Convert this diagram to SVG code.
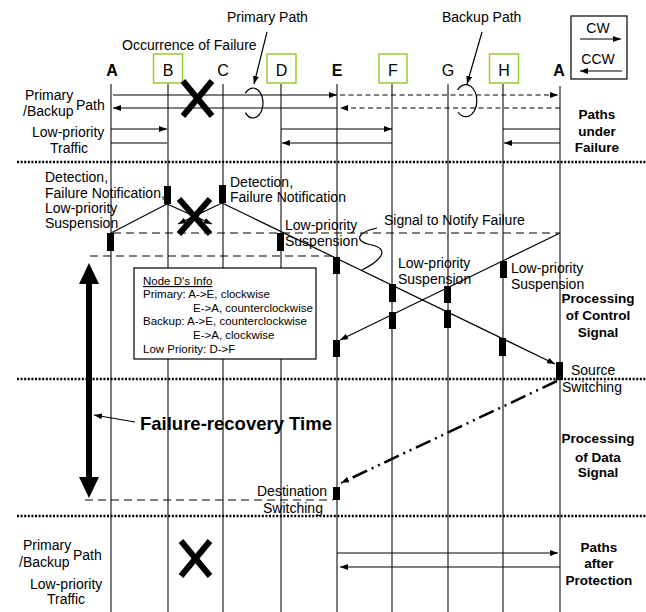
<svg xmlns="http://www.w3.org/2000/svg" width="646" height="612" viewBox="0 0 646 612">
<defs>
<marker id="ah" viewBox="0 0 8 6" refX="8" refY="3" markerWidth="8" markerHeight="6" markerUnits="userSpaceOnUse" orient="auto"><path d="M0,0 L8,3 L0,6 z" fill="#000"/></marker>
</defs>
<style>
text{font-family:"Liberation Sans",Arial,sans-serif;fill:#000}
.t{font-size:14px}
.s{font-size:11.5px}
.n{font-size:16px}
.nb{font-size:16px;font-weight:bold}
.sec{font-size:13.5px;font-weight:bold;text-anchor:middle}
.life{stroke:#222;stroke-width:1.2}
.ln{stroke:#000;stroke-width:1.2;fill:none}
.da{stroke:#000;stroke-width:1.2;stroke-dasharray:5 3.5;fill:none}
.dl{stroke:#000;stroke-width:1.1;stroke-dasharray:8 5;fill:none}
.bar{fill:#000}
.gbox{fill:#fff;stroke:#99cc33;stroke-width:1.5}
.sep{stroke:#000;stroke-width:2.5;stroke-dasharray:2 1.6}
.x{stroke:#000;stroke-width:6}
</style>

<g id="lifelines">
<line class="life" x1="111" y1="84" x2="111" y2="612"/>
<line class="life" x1="168" y1="84" x2="168" y2="612"/>
<line class="life" x1="223" y1="84" x2="223" y2="612"/>
<line class="life" x1="281" y1="84" x2="281" y2="612"/>
<line class="life" x1="337" y1="84" x2="337" y2="612"/>
<line class="life" x1="392" y1="84" x2="392" y2="612"/>
<line class="life" x1="448" y1="84" x2="448" y2="612"/>
<line class="life" x1="503" y1="84" x2="503" y2="612"/>
<line class="life" x1="560" y1="86" x2="560" y2="612"/>
</g>

<g id="node-A1"><text class="nb" x="112" y="76" text-anchor="middle">A</text></g>
<g id="node-B"><rect class="gbox" x="153.5" y="54" width="29" height="29"/><text class="n" x="168" y="76" text-anchor="middle">B</text></g>
<g id="node-C"><text class="n" x="223" y="76" text-anchor="middle">C</text></g>
<g id="node-D"><rect class="gbox" x="267" y="54" width="29" height="29"/><text class="n" x="281.5" y="76" text-anchor="middle">D</text></g>
<g id="node-E"><text class="nb" x="337" y="76" text-anchor="middle">E</text></g>
<g id="node-F"><rect class="gbox" x="379" y="54" width="28" height="29"/><text class="n" x="393" y="76" text-anchor="middle">F</text></g>
<g id="node-G"><text class="n" x="448" y="76" text-anchor="middle">G</text></g>
<g id="node-H"><rect class="gbox" x="489.5" y="54" width="29" height="29"/><text class="n" x="504" y="76" text-anchor="middle">H</text></g>
<g id="node-A2"><text class="nb" x="559" y="76" text-anchor="middle">A</text></g>

<g id="legend">
<rect x="571" y="16" width="56" height="63" fill="#fff" stroke="#000" stroke-width="1.2"/>
<text class="t" x="598" y="33" text-anchor="middle">CW</text>
<line class="ln" x1="580" y1="39" x2="621" y2="39" marker-end="url(#ah)"/>
<text class="t" x="598" y="64" text-anchor="middle">CCW</text>
<line class="ln" x1="622" y1="71" x2="580" y2="71" marker-end="url(#ah)"/>
</g>

<g id="separators">
<line class="sep" x1="17" y1="162" x2="646" y2="162"/>
<line class="sep" x1="17" y1="379" x2="646" y2="379"/>
<line class="sep" x1="17" y1="516" x2="646" y2="516"/>
</g>

<g id="connectors">
<line class="ln" x1="113" y1="95" x2="337" y2="95" marker-end="url(#ah)"/>
<line class="da" x1="340" y1="95" x2="558" y2="95" marker-end="url(#ah)"/>
<line class="ln" x1="337" y1="108" x2="113" y2="108" marker-end="url(#ah)"/>
<line class="da" x1="560" y1="108" x2="340" y2="108" marker-end="url(#ah)"/>
<line class="ln" x1="111" y1="129" x2="167" y2="129" marker-end="url(#ah)"/>
<line class="ln" x1="111" y1="143" x2="167" y2="143"/>
<line class="ln" x1="281" y1="129" x2="392" y2="129" marker-end="url(#ah)"/>
<line class="ln" x1="392" y1="143" x2="282" y2="143" marker-end="url(#ah)"/>
<line class="ln" x1="503" y1="129" x2="560" y2="129"/>
<line class="ln" x1="560" y1="143" x2="504" y2="143" marker-end="url(#ah)"/>
<line class="ln" x1="267" y1="32" x2="254" y2="84" marker-end="url(#ah)"/>
<path class="ln" d="M245.3,93.4 A10,15 0 1 1 245.3,112.6"/>
<line class="ln" x1="482" y1="32" x2="467" y2="84" marker-end="url(#ah)"/>
<path class="ln" d="M457.6,90 A11,16 0 1 1 458,112"/>
<line class="dl" x1="113" y1="233" x2="560" y2="233"/>
<line class="dl" x1="90" y1="256" x2="333" y2="256"/>
<line class="ln" x1="167" y1="204" x2="111" y2="233"/>
<line class="ln" x1="167" y1="204" x2="212" y2="224" marker-end="url(#ah)"/>
<line class="ln" x1="222" y1="203" x2="178" y2="224" marker-end="url(#ah)"/>
<line class="ln" x1="222" y1="203" x2="555" y2="364" marker-end="url(#ah)"/>
<line class="ln" x1="560" y1="233" x2="340" y2="340" marker-end="url(#ah)"/>
<path class="ln" d="M377,228 C358,232 352,241 372,245 C392,250 378,262 362,270"/>
<line x1="557" y1="381" x2="341" y2="483" stroke="#000" stroke-width="2.5" stroke-dasharray="16 5 2 5 2 5" marker-end="url(#ah)"/>
<line class="dl" x1="85" y1="500" x2="333" y2="500"/>
<rect x="86" y="282" width="6" height="197" fill="#000"/>
<polygon points="89,263 79,284 99,284" fill="#000"/>
<polygon points="89,498 79,477 99,477" fill="#000"/>
<line class="ln" x1="135" y1="422" x2="94" y2="415" marker-end="url(#ah)"/>
<line class="ln" x1="337" y1="553" x2="558" y2="553" marker-end="url(#ah)"/>
<line class="ln" x1="560" y1="567" x2="340" y2="567" marker-end="url(#ah)"/>
</g>

<g id="bars">
<rect class="bar" x="164" y="186" width="7" height="18"/>
<rect class="bar" x="219" y="185" width="7" height="18"/>
<rect class="bar" x="107" y="233" width="7" height="18"/>
<rect class="bar" x="277" y="233" width="7" height="18"/>
<rect class="bar" x="333" y="257" width="7" height="17"/>
<rect class="bar" x="389" y="284" width="7" height="18"/>
<rect class="bar" x="444" y="286" width="7" height="17"/>
<rect class="bar" x="500" y="261" width="7" height="17"/>
<rect class="bar" x="389" y="312" width="7" height="17"/>
<rect class="bar" x="444" y="310" width="7" height="18"/>
<rect class="bar" x="333" y="340" width="7" height="17"/>
<rect class="bar" x="499" y="338" width="7" height="18"/>
<rect class="bar" x="556" y="362" width="7" height="18"/>
<rect class="bar" x="333" y="487" width="7" height="13"/>
</g>

<g id="failures">
<line class="x" x1="183" y1="81" x2="212" y2="116"/><line class="x" x1="212" y1="81" x2="183" y2="116"/>
<line class="x" x1="179" y1="199" x2="210" y2="234"/><line class="x" x1="210" y1="199" x2="179" y2="234"/>
<line class="x" x1="181" y1="541" x2="210" y2="576"/><line class="x" x1="210" y1="541" x2="181" y2="576"/>
</g>

<g id="info-box">
<rect x="134" y="268" width="182" height="91" fill="#fff" stroke="#000" stroke-width="1.2"/>
<text class="s" x="143" y="285" text-decoration="underline">Node D's Info</text>
<text class="s" x="143" y="298">Primary: A-&gt;E, clockwise</text>
<text class="s" x="193" y="312">E-&gt;A, counterclockwise</text>
<text class="s" x="143" y="325">Backup: A-&gt;E, counterclockwise</text>
<text class="s" x="193" y="339">E-&gt;A, clockwise</text>
<text class="s" x="143" y="353">Low Priority: D-&gt;F</text>
</g>

<g id="labels">
<text class="t" x="227" y="22">Primary Path</text>
<text class="t" x="442" y="22">Backup Path</text>
<text class="t" x="122" y="50">Occurrence of Failure</text>
<text class="t" x="25" y="100">Primary</text>
<text class="t" x="23" y="116">/Backup</text>
<text class="t" x="76" y="110">Path</text>
<text class="t" x="32" y="137">Low-priority</text>
<text class="t" x="50" y="153">Traffic</text>
<text class="sec" x="597" y="119">Paths</text>
<text class="sec" x="597" y="136">under</text>
<text class="sec" x="597" y="152">Failure</text>
<text class="t" x="45" y="182">Detection,</text>
<text class="t" x="45" y="198">Failure Notification,</text>
<text class="t" x="45" y="213">Low-priority</text>
<text class="t" x="45" y="228">Suspension</text>
<text class="t" x="230" y="187">Detection,</text>
<text class="t" x="230" y="202">Failure Notification</text>
<text class="t" x="285" y="230">Low-priority</text>
<text class="t" x="285" y="246">Suspension</text>
<text class="t" x="384" y="225">Signal to Notify Failure</text>
<text class="t" x="398" y="268">Low-priority</text>
<text class="t" x="398" y="284">Suspension</text>
<text class="t" x="511" y="273">Low-priority</text>
<text class="t" x="511" y="289">Suspension</text>
<text class="sec" x="598" y="303">Processing</text>
<text class="sec" x="598" y="320">of Control</text>
<text class="sec" x="598" y="337">Signal</text>
<text class="t" x="571" y="375">Source</text>
<text class="t" x="562" y="392">Switching</text>
<text x="140" y="430" font-size="18.5" font-weight="bold">Failure-recovery Time</text>
<text class="sec" x="598" y="443">Processing</text>
<text class="sec" x="598" y="462">of Data</text>
<text class="sec" x="598" y="477">Signal</text>
<text class="t" x="257" y="496">Destination</text>
<text class="t" x="263" y="513">Switching</text>
<text class="t" x="23" y="550">Primary</text>
<text class="t" x="19" y="567">/Backup</text>
<text class="t" x="73" y="560">Path</text>
<text class="t" x="30" y="589">Low-priority</text>
<text class="t" x="47" y="604">Traffic</text>
<text class="sec" x="599" y="552">Paths</text>
<text class="sec" x="599" y="568">after</text>
<text class="sec" x="599" y="585">Protection</text>
</g>
</svg>
